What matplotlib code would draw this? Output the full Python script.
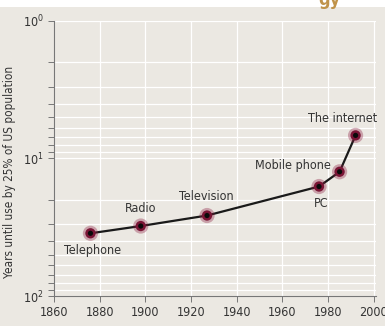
import numpy as np
import matplotlib.pyplot as plt
from matplotlib.patches import Rectangle

plt.rcParams['font.family'] = ['DejaVu Sans']
plt.rcParams['font.stretch'] = 'condensed'

techs = ["Telephone", "Radio", "Television", "PC", "Mobile phone", "The internet"]
years = [1876, 1898, 1927, 1976, 1985, 1992]
adopt = [35, 31, 26, 16, 12.5, 6.8]

# label anchor positions (data coords)
lab_x = [1877, 1898, 1926.5, 1977, 1964.5, 1986.5]
lab_y = [47, 23.3, 18.9, 21.4, 11.3, 5.16]

bg = '#ebe8e2'
fig = plt.figure(figsize=(3.85, 3.26), dpi=100, facecolor=bg)
fig.patches.append(Rectangle((0, 0.978), 1, 0.03, transform=fig.transFigure,
                             facecolor='white', edgecolor='none', zorder=0))
# bottom of a cut-off title, as in the source
fig.text(0.855, 1.0, "gy", color='#c0934a', fontsize=13, fontweight='bold',
         ha='center', va='center')

ax = fig.add_axes([0.140, 0.092, 0.837, 0.844])
ax.set_facecolor(bg)
ax.set_yscale('log')
ax.set_ylim(100, 1)
ax.set_xlim(1860, 2001)
ax.set_xticks(range(1860, 2001, 20))

ax.grid(True, which='both', color='white', lw=0.9)
ax.set_axisbelow(True)
for s in ['top', 'right']:
    ax.spines[s].set_visible(False)
for s in ['left', 'bottom']:
    ax.spines[s].set_color('#777777')
    ax.spines[s].set_linewidth(0.8)
ax.tick_params(which='both', colors='#777777', labelcolor='#333333', labelsize=9,
               length=4, width=0.7)
ax.tick_params(which='minor', length=4)

ax.plot(years, adopt, color='#1a1a1a', lw=1.6, zorder=2)
ax.scatter(years, adopt, s=120, color='#8a1c3f', alpha=0.35, edgecolor='none', zorder=3)
ax.scatter(years, adopt, s=55, color='#7a1535', edgecolor='none', zorder=4)
ax.scatter(years, adopt, s=14, color='#0a0a0a', edgecolor='none', zorder=5)

for t, x, y in zip(techs, lab_x, lab_y):
    ax.text(x, y, t, ha='center', va='center', fontsize=9, color='#333333')

ax.set_ylabel("Years until use by 25% of US population", fontsize=8.5, color='#333333')
ax.yaxis.set_label_coords(-0.118, 0.45)

fig.savefig('out.png', dpi=100, facecolor=bg)
